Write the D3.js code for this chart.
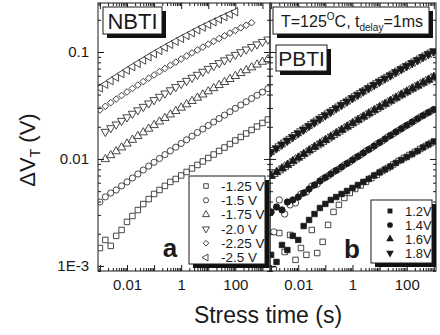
<!DOCTYPE html>
<html>
<head>
<meta charset="utf-8">
<script src="https://d3js.org/d3.v7.min.js"></script>
<style>
body { margin: 0; background: #fff; }
text { font-family: "Liberation Sans", Arial, sans-serif; }
</style>
</head>
<body>
<svg id="chart"></svg>
<script>
// stress times (s), 5 per decade
var times = [0.001, 0.001585, 0.002512, 0.003981, 0.00631, 0.01, 0.01585, 0.02512, 0.03981, 0.0631,
             0.1, 0.1585, 0.2512, 0.3981, 0.631, 1, 1.585, 2.512, 3.981, 6.31,
             10, 15.85, 25.12, 39.81, 63.1, 100, 158.5, 251.2, 398.1, 631, 1000, 1585];
// second PBTI run, sampled between the above
var timesHalf = [0.00126, 0.002, 0.00316, 0.00501, 0.00794, 0.0126, 0.02, 0.0316, 0.0501, 0.0794,
                 0.126, 0.2, 0.316, 0.501, 0.794, 1.26, 2, 3.16, 5.01, 7.94,
                 12.6, 20, 31.6, 50.1, 79.4, 126, 200, 316, 501, 794];

// NBTI dVt (V)
var nbtiLabels = ["-1.25 V", "-1.5 V", "-1.75 V", "-2.0 V", "-2.25 V", "-2.5 V"];
var nbtiFirst = [0, 0, 1, 1, 0, 0];   // index into times of first point
var nbti125 = [0.00147, 0.00175, 0.00154, 0.00191, 0.00217, 0.00258, 0.00293, 0.00333, 0.00379, 0.00422, 0.00471, 0.00513, 0.00560, 0.00610, 0.00650, 0.00701, 0.00756, 0.00815, 0.00879, 0.00948, 0.01021, 0.01101, 0.01188, 0.01280, 0.01380, 0.01488, 0.01606, 0.01730, 0.01866, 0.02012, 0.02170, 0.0234];
var nbti150 = [0.00396, 0.00442, 0.00481, 0.00513, 0.00560, 0.00610, 0.00664, 0.00724, 0.00788, 0.00857, 0.00931, 0.01011, 0.01098, 0.01190, 0.01289, 0.01396, 0.01511, 0.01634, 0.01766, 0.01905, 0.02056, 0.02216, 0.02388, 0.02570, 0.02764, 0.02972, 0.03192, 0.03426, 0.03674, 0.03936, 0.04217, 0.0454];
var nbti175 = [0.00994, 0.01082, 0.01178, 0.01280, 0.01390, 0.01508, 0.01634, 0.01770, 0.01914, 0.02069, 0.02235, 0.02411, 0.02600, 0.02799, 0.03011, 0.03237, 0.03476, 0.03731, 0.03997, 0.04281, 0.04581, 0.04897, 0.05232, 0.05580, 0.05952, 0.06339, 0.06745, 0.07171, 0.07614, 0.08084, 0.0857];
var nbti200 = [0.01796, 0.01945, 0.02104, 0.02275, 0.02456, 0.02651, 0.02856, 0.03076, 0.03310, 0.03557, 0.03822, 0.04100, 0.04395, 0.04707, 0.05037, 0.05384, 0.05750, 0.06135, 0.06540, 0.06966, 0.07413, 0.07880, 0.08370, 0.08881, 0.09419, 0.09977, 0.1056, 0.1116, 0.1179, 0.1244, 0.1310];
var nbti225 = [0.0287, 0.0311, 0.0336, 0.0363, 0.0392, 0.0423, 0.0456, 0.0491, 0.0528, 0.0568, 0.0610, 0.0655, 0.0702, 0.0751, 0.0804, 0.0859, 0.0918, 0.0979, 0.1043, 0.1111, 0.1183, 0.1257, 0.1335, 0.1416, 0.1502, 0.1590, 0.1683, 0.1779, 0.1880];
var nbti250 = [0.0461, 0.0499, 0.0540, 0.0582, 0.0628, 0.0677, 0.0728, 0.0782, 0.0840, 0.0901, 0.0966, 0.1033, 0.1105, 0.1179, 0.1258, 0.1340, 0.1426, 0.1516, 0.1610, 0.1708, 0.1810, 0.1915, 0.2025, 0.2138, 0.2256, 0.2377];

// PBTI dVt (V), filled = first run, open = second run
var pbtiLabels = ["1.2V", "1.4V", "1.6V", "1.8V"];
var pbti12 = [0.00127, 0.00109, 0.00157, 0.00141, 0.00191, 0.00175, 0.00236, 0.00269, 0.00306, 0.00348, 0.00380, 0.00414, 0.00441, 0.00471, 0.00502, 0.00536, 0.00571, 0.00610, 0.00650, 0.00701, 0.00748, 0.00798, 0.00851, 0.00918, 0.00979, 0.01044, 0.01114, 0.01188, 0.01281, 0.01366, 0.01457];
var pbti14 = [0.00320, 0.00356, 0.00334, 0.00396, 0.00414, 0.00441, 0.00481, 0.00524, 0.00571, 0.00623, 0.00671, 0.00724, 0.00781, 0.00842, 0.00908, 0.00979, 0.01055, 0.01138, 0.01227, 0.01322, 0.01426, 0.01538, 0.01658, 0.01788, 0.01919, 0.02061, 0.02213, 0.02375, 0.02544, 0.02720, 0.02902];
var pbti16 = [0.00694, 0.00751, 0.00813, 0.00879, 0.00952, 0.01026, 0.01109, 0.01198, 0.01292, 0.01390, 0.01498, 0.01612, 0.01735, 0.01866, 0.02003, 0.02151, 0.02309, 0.02480, 0.02657, 0.02846, 0.03049, 0.03259, 0.03491, 0.03724, 0.03981, 0.04246, 0.04539, 0.04831, 0.05154, 0.05484, 0.05836];
var pbti18 = [0.01162, 0.01262, 0.01369, 0.01486, 0.01609, 0.01742, 0.01887, 0.02039, 0.02203, 0.02380, 0.02566, 0.02767, 0.02985, 0.03210, 0.03453, 0.03716, 0.03990, 0.04292, 0.04599, 0.04935, 0.05287, 0.05665, 0.06055, 0.06488, 0.06921, 0.07397, 0.07891, 0.08417, 0.08981, 0.09559, 0.1017];
var pbti12open = [0.00092, 0.00203, 0.00135, 0.00195, 0.00114, 0.00147, 0.00127, 0.00217, 0.00132, 0.00168, 0.00242, 0.00320, 0.00372, 0.00432, 0.00481, 0.00524, 0.00565, 0.00610, 0.00664, 0.00709, 0.00772, 0.00824, 0.00888, 0.00958, 0.01022, 0.01090, 0.01162, 0.01240, 0.01322, 0.01411];
var pbti14open = [0.00208, 0.00414, 0.00306, 0.00372, 0.00388, 0.00471, 0.00491, 0.00559, 0.00584, 0.00650, 0.00694, 0.00756, 0.00806, 0.00879, 0.00937, 0.01022, 0.01090, 0.01188, 0.01267, 0.01381, 0.01473, 0.01606, 0.01713, 0.01847, 0.01991, 0.02124, 0.02290, 0.02469, 0.02634, 0.02809];
var pbti16open = [0.00723, 0.00782, 0.00845, 0.00916, 0.00989, 0.01067, 0.01152, 0.01243, 0.01340, 0.01445, 0.01554, 0.01672, 0.01799, 0.01932, 0.02079, 0.02232, 0.02391, 0.02566, 0.02749, 0.02945, 0.03155, 0.03373, 0.03606, 0.03855, 0.04111, 0.04395, 0.04688, 0.04989, 0.05322, 0.05665];
var pbti18open = [0.01211, 0.01314, 0.01426, 0.01544, 0.01676, 0.01815, 0.01961, 0.02119, 0.02290, 0.02469, 0.02668, 0.02870, 0.03095, 0.03330, 0.03582, 0.03855, 0.04138, 0.04442, 0.04770, 0.05110, 0.05472, 0.05863, 0.06268, 0.06701, 0.07163, 0.07640, 0.08147, 0.08694, 0.09275, 0.09872];

// tick labels
var xLabelVals = [0.01, 1, 100];
var xLabelText = ["0.01", "1", "100"];
var yLabelVals = [0.001, 0.01, 0.1];
var yLabelText = ["1E-3", "0.01", "0.1"];

var ink = "#1a1a1a";
var svg = d3.select("#chart").attr("width", 440).attr("height", 335);

var yScale = d3.scaleLog().domain([0.000897, 0.287]).range([271, 3]);
var xA = d3.scaleLog().domain([0.00085, 1900]).range([98, 270]);
var xB = d3.scaleLog().domain([0.00091, 1200]).range([270, 436]);

// marker shapes: [symbol, rotation, area]
var shapesA = [[d3.symbolSquare, 0, 30], [d3.symbolCircle, 0, 30], [d3.symbolTriangle, 0, 30],
               [d3.symbolTriangle, 180, 30], [d3.symbolSquare, 45, 22], [d3.symbolTriangle, -90, 30]];
var shapesB = [[d3.symbolSquare, 0, 30], [d3.symbolCircle, 0, 32], [d3.symbolTriangle, 0, 32], [d3.symbolTriangle, 180, 32]];

function decadeTicks(dom) {
    var maj = [], min = [];
    for (var e = -4; e <= 3; e++) {
        for (var k = 1; k <= 9; k++) {
            var v = k * Math.pow(10, e);
            if (v < dom[0] || v > dom[1]) continue;
            if (k == 1) maj.push(+v.toPrecision(3)); else min.push(v);
        }
    }
    return [maj, min];
}

function fmtFrom(vals, txt) {
    return function(d) {
        var i = vals.findIndex(v => Math.abs(v - d) / v < 1e-6);
        return i >= 0 ? txt[i] : "";
    };
}

function axisCall(g, axis) {
    g.call(axis).attr("color", ink).attr("font-size", 15)
        .attr("font-family", "'Liberation Sans', Arial, sans-serif");
    g.select(".domain").remove();
}

function drawFrame(x, leftLabels) {
    var x0 = x.range()[0], x1 = x.range()[1];
    var xt = decadeTicks(x.domain());
    var yt = decadeTicks(yScale.domain());
    var g = svg.append("g");

    // bottom + top
    axisCall(g.append("g").attr("transform", "translate(0,271)"),
        d3.axisBottom(x).tickValues(xt[0]).tickSize(-6).tickPadding(8).tickFormat(fmtFrom(xLabelVals, xLabelText)));
    axisCall(g.append("g").attr("transform", "translate(0,271)"),
        d3.axisBottom(x).tickValues(xt[1]).tickSize(-3).tickFormat(""));
    axisCall(g.append("g").attr("transform", "translate(0,3)"),
        d3.axisTop(x).tickValues(xt[0]).tickSize(-6).tickFormat(""));
    axisCall(g.append("g").attr("transform", "translate(0,3)"),
        d3.axisTop(x).tickValues(xt[1]).tickSize(-3).tickFormat(""));

    // left + right
    axisCall(g.append("g").attr("transform", `translate(${x0},0)`),
        d3.axisLeft(yScale).tickValues(yt[0]).tickSize(-6).tickPadding(9)
            .tickFormat(leftLabels ? fmtFrom(yLabelVals, yLabelText) : ""));
    axisCall(g.append("g").attr("transform", `translate(${x0},0)`),
        d3.axisLeft(yScale).tickValues(yt[1]).tickSize(-3).tickFormat(""));
    axisCall(g.append("g").attr("transform", `translate(${x1},0)`),
        d3.axisRight(yScale).tickValues(yt[0]).tickSize(-6).tickFormat(""));
    axisCall(g.append("g").attr("transform", `translate(${x1},0)`),
        d3.axisRight(yScale).tickValues(yt[1]).tickSize(-3).tickFormat(""));

    g.append("rect").attr("x", x0).attr("y", 3).attr("width", x1 - x0).attr("height", 268)
        .attr("fill", "none").attr("stroke", ink).attr("stroke-width", 1);
}

function clipFor(id, x) {
    svg.append("clipPath").attr("id", id).append("rect")
        .attr("x", x.range()[0]).attr("y", 3)
        .attr("width", x.range()[1] - x.range()[0]).attr("height", 268);
}

function drawSeries(x, clip, tArr, first, vals, shape, filled) {
    var pts = vals.map((v, i) => ({t: tArr[first + i], v: v}));
    var sym = d3.symbol().type(shape[0]).size(shape[2]);
    svg.append("g").attr("clip-path", `url(#${clip})`)
        .selectAll("path").data(pts).enter().append("path")
        .attr("d", sym)
        .attr("transform", d => `translate(${x(d.t)},${yScale(d.v)}) rotate(${shape[1]})`)
        .attr("fill", filled ? ink : "#fff")
        .attr("stroke", ink)
        .attr("stroke-width", 0.8);
}

function shadowBox(x, y, w, h) {
    svg.append("rect").attr("x", x + 4).attr("y", y + 4).attr("width", w).attr("height", h).attr("fill", "#111");
    svg.append("rect").attr("x", x).attr("y", y).attr("width", w).attr("height", h)
        .attr("fill", "#fff").attr("stroke", ink).attr("stroke-width", 1);
}

clipFor("clipA", xA);
clipFor("clipB", xB);

// panel a: NBTI
var nbtiSets = [nbti125, nbti150, nbti175, nbti200, nbti225, nbti250];
nbtiSets.forEach((vals, i) => drawSeries(xA, "clipA", times, nbtiFirst[i], vals, shapesA[i], false));

// panel b: PBTI
var pbtiOpen = [pbti12open, pbti14open, pbti16open, pbti18open];
var pbtiFilled = [pbti12, pbti14, pbti16, pbti18];
pbtiOpen.forEach((vals, i) => drawSeries(xB, "clipB", timesHalf, 0, vals, shapesB[i], false));
pbtiFilled.forEach((vals, i) => drawSeries(xB, "clipB", times, 0, vals, shapesB[i], true));

drawFrame(xA, true);
drawFrame(xB, false);

// legend a
shadowBox(189, 176, 76, 88);
nbtiLabels.forEach((lab, i) => {
    var yy = 186 + i * 14.3;
    var sh = shapesA[i];
    svg.append("path").attr("d", d3.symbol().type(sh[0]).size(sh[2] * 0.7))
        .attr("transform", `translate(206,${yy}) rotate(${sh[1]})`)
        .attr("fill", "#fff").attr("stroke", ink).attr("stroke-width", 0.8);
    svg.append("text").attr("x", 221).attr("y", yy).attr("dy", "0.36em")
        .attr("font-size", 13.5).attr("fill", ink).text(lab);
});

// legend b
shadowBox(371, 200, 61, 63);
pbtiLabels.forEach((lab, i) => {
    var yy = 211 + i * 14;
    var sh = shapesB[i];
    svg.append("path").attr("d", d3.symbol().type(sh[0]).size(sh[2] * 0.8))
        .attr("transform", `translate(390,${yy}) rotate(${sh[1]})`)
        .attr("fill", ink);
    svg.append("text").attr("x", 405).attr("y", yy).attr("dy", "0.36em")
        .attr("font-size", 13).attr("fill", ink).text(lab);
});

// boxed labels
shadowBox(103, 7, 59, 27);
svg.append("text").attr("x", 132.5).attr("y", 28.5).attr("text-anchor", "middle")
    .attr("font-size", 22).attr("fill", ink).text("NBTI");

shadowBox(273, 7, 156, 27);
var tl = svg.append("text").attr("x", 281).attr("y", 27).attr("font-size", 16).attr("fill", ink);
tl.append("tspan").text("T=125");
tl.append("tspan").attr("font-size", 10).attr("dy", -7).text("O");
tl.append("tspan").attr("dy", 7).text("C, t");
tl.append("tspan").attr("font-size", 10).attr("dy", 4).text("delay");
tl.append("tspan").attr("dy", -4).text("=1ms");

shadowBox(276, 45, 51, 26);
svg.append("text").attr("x", 301.5).attr("y", 65.5).attr("text-anchor", "middle")
    .attr("font-size", 21).attr("fill", ink).text("PBTI");

svg.append("text").attr("x", 170).attr("y", 257).attr("text-anchor", "middle")
    .attr("font-size", 26).attr("font-weight", "bold").attr("fill", ink).text("a");
svg.append("text").attr("x", 352).attr("y", 258).attr("text-anchor", "middle")
    .attr("font-size", 26).attr("font-weight", "bold").attr("fill", ink).text("b");

// axis titles
svg.append("text").attr("x", 268).attr("y", 323).attr("text-anchor", "middle")
    .attr("font-size", 23).attr("fill", ink).text("Stress time (s)");

var yl = svg.append("text").attr("transform", "translate(35,150) rotate(-90)")
    .attr("text-anchor", "middle").attr("font-size", 22).attr("fill", ink);
yl.append("tspan").text("\u0394V");
yl.append("tspan").attr("font-size", 14).attr("dy", 5).text("T");
yl.append("tspan").attr("dy", -5).text(" (V)");
</script>
</body>
</html>
